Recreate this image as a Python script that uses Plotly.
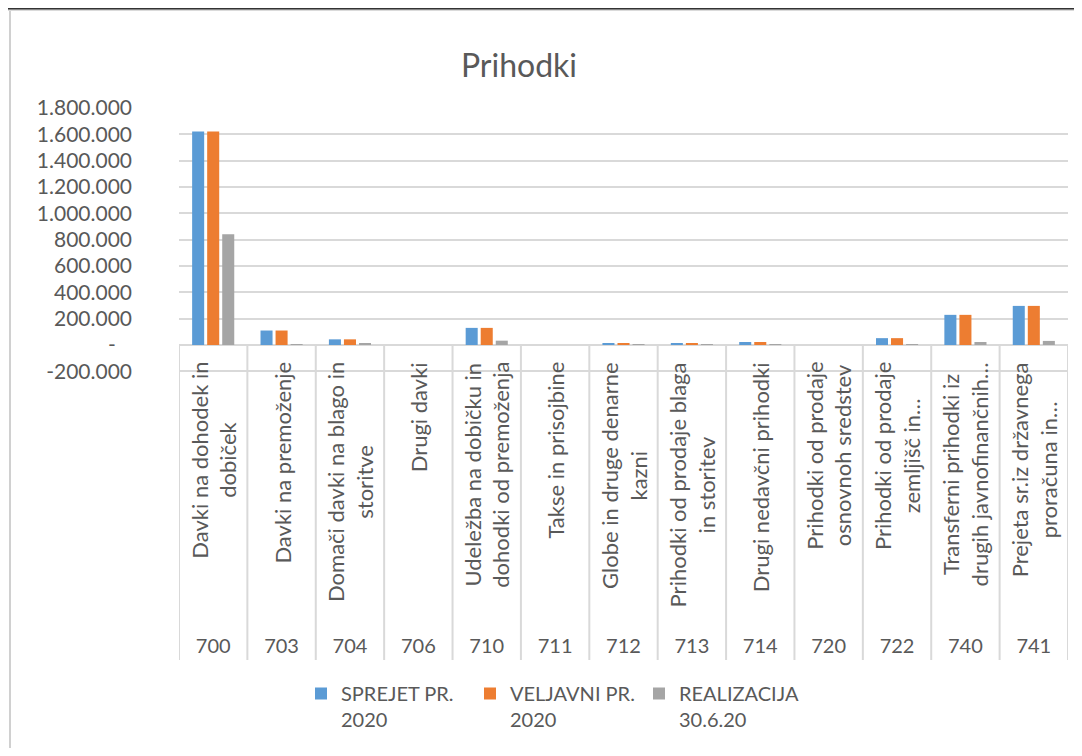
import plotly.graph_objects as go

# ---- data ----
codes = ["700", "703", "704", "706", "710", "711", "712", "713", "714", "720", "722", "740", "741"]
names = [
    "Davki na dohodek in<br>dobiček",
    "Davki na premoženje",
    "Domači davki na blago in<br>storitve",
    "Drugi davki",
    "Udeležba na dobičku in<br>dohodki od premoženja",
    "Takse in prisojbine",
    "Globe in druge denarne<br>kazni",
    "Prihodki od prodaje blaga<br>in storitev",
    "Drugi nedavčni prihodki",
    "Prihodki od prodaje<br>osnovnoh sredstev",
    "Prihodki od prodaje<br>zemljišč in…",
    "Transferni prihodki iz<br>drugih javnofinančnih…",
    "Prejeta sr.iz državnega<br>proračuna in…",
]
series_names = ["SPREJET PR.<br>2020", "VELJAVNI PR.<br>2020", "REALIZACIJA<br>30.6.20"]
sprejet = [1622000, 110000, 43000, 0, 130000, 0, 14000, 13000, 23000, 0, 52000, 229000, 297000]
veljavni = [1622000, 110000, 43000, 0, 130000, 0, 14000, 13000, 23000, 0, 52000, 229000, 297000]
realizacija = [842000, 1000, 14000, 0, 33000, 0, 1000, 1000, 3000, 0, 2000, 23000, 31000]
tick_vals = [-200000, 0, 200000, 400000, 600000, 800000, 1000000, 1200000, 1400000, 1600000, 1800000]
tick_text = ["-200.000", "-\u00a0\u00a0\u00a0", "200.000", "400.000", "600.000", "800.000",
             "1.000.000", "1.200.000", "1.400.000", "1.600.000", "1.800.000"]
title_text = "Prihodki"

# ---- layout geometry (reference pixels; page body adds an 8px offset) ----
OFF = 8
W, H = 1082 - OFF, 756 - 2 * OFF
PL, PR, PT, PB = 179 - OFF, 1068 - OFF, 108 - OFF, 660 - OFF
Y_TOP = 1800000
PX_PER_UNIT = (345.5 - 108.5) / 1800000.0
Y_BOTTOM = Y_TOP - (PB - PT) / PX_PER_UNIT

def px_x(px):
    return (px - OFF - PL) / (PR - PL)

def px_y(py):
    return (PB - (py - OFF)) / (PB - PT)

FONT = "Lato"
GREY_TXT = "#595959"
GRID = "#D9D9D9"
colors = ["#5B9BD5", "#ED7D31", "#A5A5A5"]

fig = go.Figure()
for nm, vals, col in zip(series_names, [sprejet, veljavni, realizacija], colors):
    fig.add_trace(go.Bar(x=codes, y=vals, name=nm, marker=dict(color=col, line=dict(width=0))))

shapes = []
# category dividers below the zero line
for i in range(len(codes) + 1):
    shapes.append(dict(type="line", xref="x", yref="y", x0=i - 0.5, x1=i - 0.5, y0=0, y1=Y_BOTTOM,
                       line=dict(color=GRID, width=2)))
# decorative sheet edges (spreadsheet context)
shapes.append(dict(type="rect", xref="paper", yref="paper", x0=px_x(0), x1=px_x(1082), y0=px_y(9), y1=px_y(11),
                   fillcolor="#DADADA", line=dict(width=0), layer="above"))
shapes.append(dict(type="line", xref="paper", yref="paper", x0=px_x(0), x1=px_x(1082), y0=px_y(8.5), y1=px_y(8.5),
                   line=dict(color="#333333", width=2)))
shapes.append(dict(type="line", xref="paper", yref="paper", x0=px_x(10), x1=px_x(10), y0=px_y(11), y1=px_y(756),
                   line=dict(color="#D0D0D0", width=2)))

annotations = []
for i, n in enumerate(names):
    annotations.append(dict(x=i, y=0, xref="x", yref="y", text=n, textangle=-90, showarrow=False,
                            xanchor="center", yanchor="top", yshift=-15, align="center",
                            font=dict(family=FONT, size=22, color=GREY_TXT)))

fig.update_layout(
    width=W, height=H,
    margin=dict(l=PL, r=W - PR, t=PT, b=H - PB, autoexpand=False),
    paper_bgcolor="white", plot_bgcolor="white",
    barmode="group", bargap=0.34, bargroupgap=0.2,
    title=dict(text=title_text, x=(519 - OFF) / W, xref="container", xanchor="center",
               y=1 - (66 - OFF) / H, yref="container", yanchor="middle",
               font=dict(family=FONT, size=32, color=GREY_TXT)),
    font=dict(family=FONT, color=GREY_TXT),
    xaxis=dict(type="category", categoryorder="array", categoryarray=codes, showgrid=False,
               showline=False, zeroline=False, ticks="", ticklabelposition="inside",
               tickfont=dict(family=FONT, size=20, color=GREY_TXT), range=[-0.5, len(codes) - 0.5]),
    yaxis=dict(range=[Y_BOTTOM, Y_TOP], tickmode="array", tickvals=tick_vals, ticktext=tick_text,
               showgrid=True, gridcolor=GRID, gridwidth=2, zeroline=False, showline=False,
               ticks="", ticklabelstandoff=46,
               tickfont=dict(family=FONT, size=21, color=GREY_TXT)),
    legend=dict(orientation="h", x=px_x(301), y=px_y(674), xanchor="left", yanchor="top",
                entrywidth=124, entrywidthmode="pixels", valign="top",
                font=dict(family=FONT, size=20, color=GREY_TXT), traceorder="normal"),
    shapes=shapes,
    annotations=annotations,
)

fig.write_html("out.html")
